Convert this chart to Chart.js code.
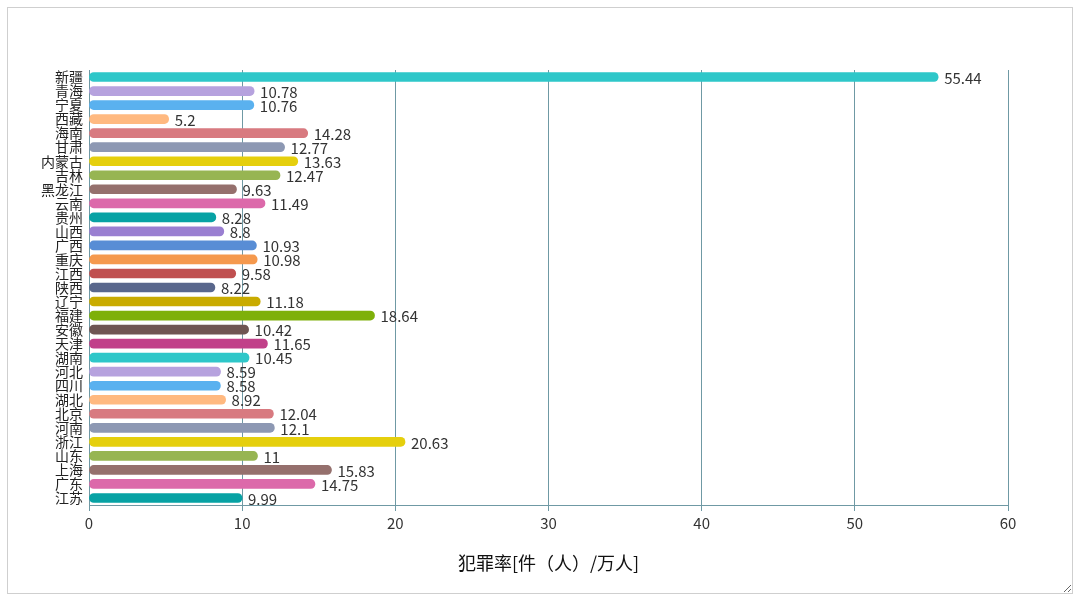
<!DOCTYPE html>
<html>
<head>
<meta charset="utf-8">
<script src="https://cdn.jsdelivr.net/npm/chart.js@4"></script>
<style>
  html, body { margin: 0; padding: 0; background: #fff; }
  #box {
    position: absolute; left: 7px; top: 7px;
    width: 1064px; height: 585px;
    border: 1px solid #cfcfcf;
    overflow: hidden; resize: both;
  }
  #box canvas { display: block; }
</style>
</head>
<body>
<div id="box"><canvas id="crimeChart" width="1064" height="585"></canvas></div>
<script>
// 各省份犯罪率（从上到下）
const provinces = ['新疆', '青海', '宁夏', '西藏', '海南', '甘肃', '内蒙古', '吉林', '黑龙江', '云南',
    '贵州', '山西', '广西', '重庆', '江西', '陕西', '辽宁', '福建', '安徽', '天津',
    '湖南', '河北', '四川', '湖北', '北京', '河南', '浙江', '山东', '上海', '广东', '江苏'];
const crimeRates = [55.44, 10.78, 10.76, 5.2, 14.28, 12.77, 13.63, 12.47, 9.63, 11.49,
    8.28, 8.8, 10.93, 10.98, 9.58, 8.22, 11.18, 18.64, 10.42, 11.65,
    10.45, 8.59, 8.58, 8.92, 12.04, 12.1, 20.63, 11, 15.83, 14.75, 9.99];
const xTicks = [0, 10, 20, 30, 40, 50, 60];
const axisTitle = '犯罪率[件（人）/万人]';

const palette = ['#2ec7c9', '#b6a2de', '#5ab1ef', '#ffb980', '#d87a80', '#8d98b3', '#e5cf0d', '#97b552',
    '#95706d', '#dc69aa', '#07a2a4', '#9a7fd1', '#588dd5', '#f5994e', '#c05050', '#59678c',
    '#c9ab00', '#7eb00a', '#6f5553', '#c14089'];
const barColors = provinces.map((_, i) => palette[i % palette.length]);

const fontFamily = '"Noto Sans CJK SC", "Noto Sans", sans-serif';
const lineColor = '#6f99a4';

// draw the value next to each bar end
const valueLabels = {
    id: 'valueLabels',
    afterDatasetsDraw(chart) {
        const ctx = chart.ctx;
        const meta = chart.getDatasetMeta(0);
        ctx.save();
        ctx.font = '15px ' + fontFamily;
        ctx.fillStyle = '#333';
        ctx.textAlign = 'left';
        ctx.textBaseline = 'middle';
        meta.data.forEach((bar, i) => {
            ctx.fillText(String(crimeRates[i]), bar.x + 6, bar.y + 1);
        });
        ctx.restore();
    }
};

const ctx = document.getElementById('crimeChart').getContext('2d');
new Chart(ctx, {
    type: 'bar',
    data: {
        labels: provinces,
        datasets: [{
            data: crimeRates,
            backgroundColor: barColors,
            barThickness: 9,
            borderRadius: 5,
            borderSkipped: false
        }]
    },
    options: {
        indexAxis: 'y',
        responsive: false,
        animation: false,
        layout: { padding: { top: 62, right: 64, left: 0, bottom: 0 } },
        plugins: {
            legend: { display: false },
            tooltip: { enabled: false }
        },
        scales: {
            x: {
                min: 0,
                max: 60,
                afterBuildTicks: (scale) => { scale.ticks = xTicks.map(v => ({ value: v })); },
                afterFit: (scale) => { scale.height = 88; },
                grid: { color: lineColor, lineWidth: 1, tickLength: 6, tickColor: lineColor },
                border: { color: lineColor },
                ticks: { color: '#333', padding: 3, font: { family: fontFamily, size: 15 } },
                title: {
                    display: true,
                    text: axisTitle,
                    color: '#111',
                    font: { family: fontFamily, size: 18 },
                    padding: { top: 0, bottom: 19 }
                }
            },
            y: {
                afterFit: (scale) => { scale.width = 81; },
                grid: { display: false, drawTicks: false },
                border: { display: true, color: lineColor },
                ticks: {
                    autoSkip: false,
                    color: '#222',
                    padding: 6,
                    font: { family: fontFamily, size: 14, lineHeight: 1 }
                }
            }
        }
    },
    plugins: [valueLabels]
});
</script>
</body>
</html>
